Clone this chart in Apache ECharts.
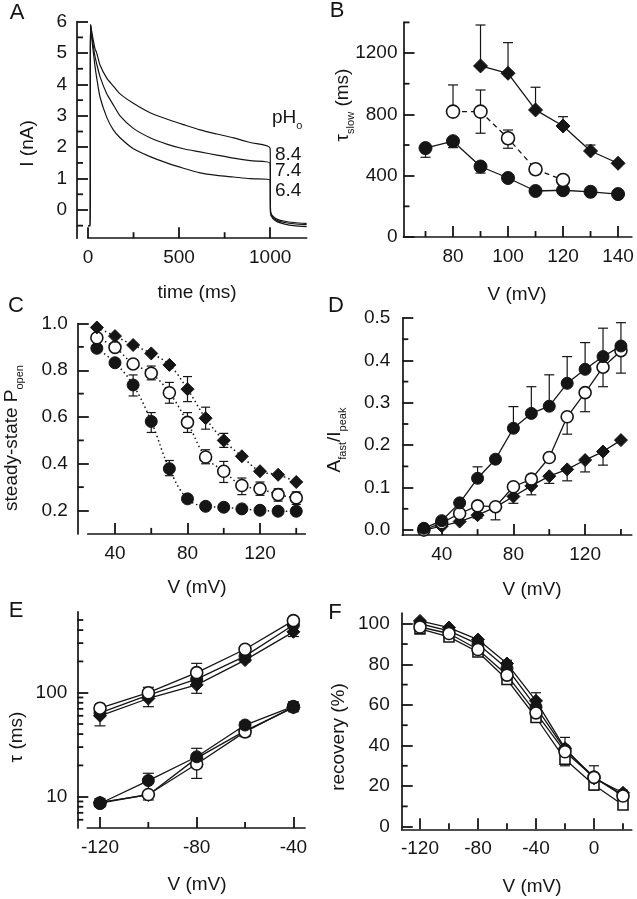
<!DOCTYPE html>
<html><head><meta charset="utf-8">
<script src="https://cdn.jsdelivr.net/npm/echarts@6/dist/echarts.min.js"></script>
<style>html,body{margin:0;padding:0;background:#fff}#c{width:637px;height:899px}</style>
</head><body><div id="c"></div>
<script>
// ---------- Panel A: current traces ----------
const timeA      = [0, 12, 14, 20, 38, 48, 66, 103, 139, 176, 249, 341, 432, 524, 615, 707, 799, 890, 1000, 1002, 1015, 1040, 1080, 1130, 1200];
const currentPH84 = [-0.5, -0.5, 5.9, 5.7, 5.15, 5.0, 4.62, 4.2, 3.95, 3.7, 3.4, 3.1, 2.9, 2.72, 2.55, 2.42, 2.3, 2.15, 1.96, -0.05, -0.2, -0.3, -0.36, -0.4, -0.43];
const currentPH74 = [-0.5, -0.5, 5.9, 5.6, 4.9, 4.65, 4.25, 3.7, 3.35, 3.0, 2.6, 2.3, 2.1, 1.95, 1.85, 1.75, 1.65, 1.57, 1.49, -0.08, -0.24, -0.34, -0.4, -0.44, -0.47];
const currentPH64 = [-0.5, -0.5, 5.9, 5.5, 4.6, 4.2, 3.6, 2.95, 2.55, 2.3, 1.95, 1.7, 1.5, 1.33, 1.18, 1.1, 1.05, 1.0, 0.96, -0.1, -0.28, -0.38, -0.45, -0.5, -0.53];
const pHLabels = ['8.4', '7.4', '6.4'];

// ---------- Panel B: tau slow ----------
const vBFilled = [70, 80, 90, 100, 110, 120, 130, 140];
const tauSlowFilled = [580, 625, 460, 385, 300, 305, 295, 280];
const vBOpen = [80, 90, 100, 110, 120];
const tauSlowOpen = [818, 818, 644, 442, 372];
const vBDiamond = [90, 100, 110, 120, 130, 140];
const tauSlowDiamond = [1116, 1068, 829, 724, 561, 481];
const errBFilled = [[70, 520, 580], [80, 583, 625], [90, 417, 460]];
const errBOpen = [[80, 818, 992], [90, 677, 959], [100, 579, 698]];
const errBDiamond = [[90, 1116, 1383], [100, 1068, 1268], [110, 829, 977], [120, 724, 785], [130, 561, 600]];

// ---------- Panel C: steady-state Popen ----------
const vC = [30, 40, 50, 60, 70, 80, 90, 100, 110, 120, 130, 140];
const pOpenDiamond = [0.983, 0.946, 0.908, 0.872, 0.823, 0.719, 0.595, 0.50, 0.432, 0.368, 0.353, 0.322];
const pOpenOpen = [0.939, 0.898, 0.827, 0.787, 0.704, 0.577, 0.429, 0.368, 0.307, 0.293, 0.268, 0.254];
const pOpenFilled = [0.894, 0.832, 0.737, 0.581, 0.379, 0.25, 0.218, 0.214, 0.207, 0.201, 0.197, 0.197];
const errCFilled = [[50, 0.69, 0.78], [60, 0.534, 0.619], [70, 0.349, 0.414]];
const errCOpen = [[60, 0.759, 0.818], [70, 0.659, 0.748], [80, 0.534, 0.619], [90, 0.40, 0.46], [100, 0.32, 0.41], [110, 0.268, 0.339], [120, 0.265, 0.322], [130, 0.24, 0.293], [140, 0.226, 0.28]];
const errCDiamond = [[80, 0.666, 0.773], [90, 0.548, 0.642], [100, 0.47, 0.53]];

// ---------- Panel D: Afast/Ipeak ----------
const vD = [30, 40, 50, 60, 70, 80, 90, 100, 110, 120, 130, 140];
const aFastFilled = [0.004, 0.022, 0.064, 0.122, 0.167, 0.24, 0.275, 0.292, 0.346, 0.379, 0.409, 0.434];
const aFastOpen = [0.0, 0.017, 0.039, 0.057, 0.055, 0.102, 0.12, 0.171, 0.267, 0.324, 0.384, 0.423];
const aFastDiamond = [0.0, 0.009, 0.02, 0.035, 0.054, 0.079, 0.104, 0.127, 0.143, 0.165, 0.185, 0.212];
const errDFilled = [[60, 0.122, 0.149], [80, 0.24, 0.291], [90, 0.275, 0.338], [100, 0.292, 0.366], [110, 0.346, 0.409], [120, 0.379, 0.442], [130, 0.409, 0.476], [140, 0.434, 0.489]];
const errDOpen = [[110, 0.226, 0.267], [120, 0.279, 0.324], [130, 0.338, 0.384], [140, 0.37, 0.423]];
const errDDiamond = [[60, 0.028, 0.035], [70, 0.024, 0.054], [80, 0.063, 0.079], [90, 0.083, 0.104], [100, 0.11, 0.127], [110, 0.116, 0.143], [120, 0.137, 0.165], [130, 0.153, 0.185]];

// ---------- Panel E: tau (log) ----------
const vE = [-120, -100, -80, -60, -40];
const tauSlowEOpen = [71, 100, 156, 262, 493];
const tauSlowEFilled = [64, 95, 135, 225, 448];
const tauSlowEDiamond = [60, 88, 119, 206, 385];
const tauFastEOpen = [8.7, 10.5, 20.6, 42, 73];
const tauFastEFilled = [8.6, 14.3, 24.2, 48.9, 74];
const tauFastEDiamond = [8.8, 10.4, 23.5, 43, 72];
const errE = [[-120, 48, 60], [-100, 73.4, 112.7], [-80, 98.7, 191.6], [-60, 198, 277], [-40, 347, 519], [-120, 8, 9.6], [-100, 9.3, 16.8], [-80, 15, 29.2], [-60, 37.8, 52.6], [-40, 65.6, 81.9]];

// ---------- Panel F: recovery ----------
const vF = [-120, -100, -80, -60, -40, -20, 0, 20];
const recSquare = [97.5, 93.5, 86.1, 72.5, 53.8, 33.2, 20.5, 10.7];
const recDiamond = [101.4, 98.1, 92.2, 80.4, 62, 38.6, 23.8, 16.7];
const recFilled = [100, 96.5, 90, 78, 59, 38, 24.5, 15.5];
const recOpen = [98.4, 95.2, 87.3, 74.7, 56.1, 36.9, 24.3, 15.1];
const errF = [[-60, 72.5, 82], [-40, 53.8, 66], [-20, 30, 44], [0, 18, 30], [20, 8.5, 18]];

// ---------- tick values ----------
const ticksA = {xMaj: [0, 500, 1000], xMin: [250, 750], yMaj: [0, 1, 2, 3, 4, 5, 6], yMin: [-0.5, 0.5, 1.5, 2.5, 3.5, 4.5, 5.5]};
const ticksB = {xMaj: [80, 100, 120, 140], xMin: [70, 90, 110, 130], yMaj: [0, 400, 800, 1200], yMin: [200, 600, 1000, 1400]};
const ticksC = {xMaj: [40, 80, 120], xMin: [60, 100, 140], yMaj: [0.2, 0.4, 0.6, 0.8, 1.0], yMin: [0.3, 0.5, 0.7, 0.9]};
const ticksD = {xMaj: [40, 80, 120], xMin: [60, 100, 140], yMaj: [0, 0.1, 0.2, 0.3, 0.4, 0.5], yMin: [0.05, 0.15, 0.25, 0.35, 0.45]};
const ticksE = {xMaj: [-120, -80, -40], xMin: [-100, -60], yMaj: [10, 100], yMin: [6, 7, 8, 9, 20, 30, 40, 50, 60, 70, 80, 90, 200, 300, 400, 500]};
const ticksF = {xMaj: [-120, -80, -40, 0], xMin: [-100, -60, -20, 20], yMaj: [0, 20, 40, 60, 80, 100], yMin: [10, 30, 50, 70, 90]};

const FONT = '"Liberation Sans", Arial, Helvetica, sans-serif';
const INK = '#151515';

const grids = [
  {left: 88, top: 21.7, width: 218.6, height: 216.5},
  {left: 403.5, top: 22.4, width: 228.3, height: 214.6},
  {left: 87.8, top: 323.5, width: 217.5, height: 210.4},
  {left: 402.3, top: 318, width: 229.4, height: 217.1},
  {left: 87.3, top: 611.8, width: 217.7, height: 216.2},
  {left: 401.7, top: 613, width: 230, height: 216.3}
];

const xAxes = [], yAxes = [];
function addAxis(list, dim, grid, cfg) {
  list.push({gridIndex: grid, type: cfg.type || 'value', min: cfg.min, max: cfg.max,
    position: dim === 'x' ? 'bottom' : 'left', offset: cfg.offset || 0,
    splitLine: {show: false},
    axisLine: {show: true, onZero: false, lineStyle: {color: INK, width: 1.7}},
    axisTick: {show: true, inside: true, length: 11, customValues: cfg.maj, lineStyle: {color: INK, width: 1.8}},
    axisLabel: {show: true, customValues: cfg.maj, color: INK, fontSize: 19, fontFamily: FONT, margin: cfg.margin || 10,
      formatter: cfg.fmt || (v => String(v))}
  });
}
const f1 = v => v.toFixed(1);
const axA = {x: {min: 0, max: 1200}, y: {min: -0.9, max: 6, off: 11}};
const axB = {x: {min: 62, max: 145}, y: {min: 0, max: 1400, off: 0}};
const axC = {x: {min: 25, max: 145}, y: {min: 0.1, max: 1.0, off: 10}};
const axD = {x: {min: 18, max: 146}, y: {min: -0.012, max: 0.5, off: 0}};
const axE = {x: {min: -125.25, max: -35.2}, y: {min: 5, max: 600, off: 10}};
const axF = {x: {min: -132.6, max: 26}, y: {min: -1.3, max: 105.3, off: 0}};
const AX = [axA, axB, axC, axD, axE, axF];
const TK = [ticksA, ticksB, ticksC, ticksD, ticksE, ticksF];

addAxis(xAxes, 'x', 0, {min: 0, max: 1200, maj: ticksA.xMaj});
addAxis(yAxes, 'y', 0, {min: -0.9, max: 6, maj: ticksA.yMaj, offset: 11});
addAxis(xAxes, 'x', 1, {min: 62, max: 145, maj: ticksB.xMaj});
addAxis(yAxes, 'y', 1, {min: 0, max: 1400, maj: ticksB.yMaj, margin: 6});
addAxis(xAxes, 'x', 2, {min: 25, max: 145, maj: ticksC.xMaj});
addAxis(yAxes, 'y', 2, {min: 0.1, max: 1.0, maj: ticksC.yMaj, offset: 10, fmt: f1});
addAxis(xAxes, 'x', 3, {min: 18, max: 146, maj: ticksD.xMaj});
addAxis(yAxes, 'y', 3, {min: -0.012, max: 0.5, maj: ticksD.yMaj, fmt: f1, margin: 12});
addAxis(xAxes, 'x', 4, {min: -125.25, max: -35.2, maj: ticksE.xMaj});
addAxis(yAxes, 'y', 4, {type: 'log', min: 5, max: 600, maj: ticksE.yMaj, offset: 10});
addAxis(xAxes, 'x', 5, {min: -132.6, max: 26, maj: ticksF.xMaj});
addAxis(yAxes, 'y', 5, {min: -1.3, max: 105.3, maj: ticksF.yMaj, margin: 12});

// minor ticks placed through each panel's own scales
function minorTicks(p) {
  const ax = AX[p], tk = TK[p];
  const data = tk.xMin.map(v => [v, ax.y.min, 0]).concat(tk.yMin.map(v => [ax.x.min, v, 1]));
  return {type: 'custom', xAxisIndex: p, yAxisIndex: p, data: data, z: 5, silent: true, animation: false, clip: false,
    renderItem: function (params, api) {
      const c = api.coord([api.value(0), api.value(1)]);
      const st = {stroke: INK, lineWidth: 1.8};
      if (api.value(2) === 0) {
        return {type: 'line', shape: {x1: c[0], y1: c[1], x2: c[0], y2: c[1] - 6}, style: st};
      }
      const x0 = c[0] - ax.y.off;
      return {type: 'line', shape: {x1: x0, y1: c[1], x2: x0 + 6, y2: c[1]}, style: st};
    }};
}

const zip = (xs, ys) => xs.map((x, i) => [x, ys[i]]);
function styleFor(kind) {
  if (kind === 'filled') return {symbol: 'circle', itemStyle: {color: INK, borderColor: INK, borderWidth: 1}};
  if (kind === 'open') return {symbol: 'circle', itemStyle: {color: '#fff', borderColor: INK, borderWidth: 1.6}};
  if (kind === 'diamond') return {symbol: 'diamond', itemStyle: {color: INK, borderColor: INK, borderWidth: 1}};
  if (kind === 'square') return {symbol: 'rect', itemStyle: {color: '#fff', borderColor: INK, borderWidth: 1.6}};
}
function pts(panel, kind, xs, ys, size, line) {
  return Object.assign({type: 'line', xAxisIndex: panel, yAxisIndex: panel, data: zip(xs, ys),
    symbolSize: size, showSymbol: true, z: 3, animation: false, smooth: line.smooth || false,
    lineStyle: {color: INK, width: line.width || 1.3, type: line.type || 'solid'}}, styleFor(kind));
}
function errs(panel, data, cap) {
  return {type: 'custom', xAxisIndex: panel, yAxisIndex: panel, data: data, z: 2, silent: true, animation: false,
    encode: {x: 0, y: [1, 2]},
    renderItem: function (params, api) {
      const x = api.value(0), lo = api.value(1), hi = api.value(2);
      const a = api.coord([x, lo]), b = api.coord([x, hi]); const w = cap / 2;
      const st = {stroke: INK, lineWidth: 1.2};
      return {type: 'group', children: [
        {type: 'line', shape: {x1: a[0], y1: a[1], x2: b[0], y2: b[1]}, style: st},
        {type: 'line', shape: {x1: a[0] - w, y1: a[1], x2: a[0] + w, y2: a[1]}, style: st},
        {type: 'line', shape: {x1: b[0] - w, y1: b[1], x2: b[0] + w, y2: b[1]}, style: st}
      ]};
    }};
}
function trace(ys) {
  return {type: 'line', xAxisIndex: 0, yAxisIndex: 0, data: zip(timeA, ys), showSymbol: false, symbol: 'none',
    smooth: 0.25, animation: false, lineStyle: {color: INK, width: 1.2}};
}

const series = [
  minorTicks(0), minorTicks(1), minorTicks(2), minorTicks(3), minorTicks(4), minorTicks(5),
  trace(currentPH84), trace(currentPH74), trace(currentPH64),
  errs(1, errBFilled, 10), errs(1, errBOpen, 10), errs(1, errBDiamond, 10),
  pts(1, 'filled', vBFilled, tauSlowFilled, 13, {}),
  pts(1, 'open', vBOpen, tauSlowOpen, 13, {type: [5, 4]}),
  pts(1, 'diamond', vBDiamond, tauSlowDiamond, 14, {}),
  errs(2, errCFilled, 9), errs(2, errCOpen, 9), errs(2, errCDiamond, 9),
  pts(2, 'filled', vC, pOpenFilled, 12, {type: [1.5, 3], smooth: 0.4, width: 1.5}),
  pts(2, 'open', vC, pOpenOpen, 12, {type: [1.5, 3], smooth: 0.4, width: 1.5}),
  pts(2, 'diamond', vC, pOpenDiamond, 13, {type: [1.5, 3], smooth: 0.4, width: 1.5}),
  errs(3, errDFilled, 10), errs(3, errDOpen, 10), errs(3, errDDiamond, 10),
  pts(3, 'diamond', vD, aFastDiamond, 13, {}),
  pts(3, 'open', vD, aFastOpen, 12, {}),
  pts(3, 'filled', vD, aFastFilled, 12, {}),
  errs(4, errE, 11),
  pts(4, 'diamond', vE, tauSlowEDiamond, 13, {}),
  pts(4, 'filled', vE, tauSlowEFilled, 12, {}),
  pts(4, 'open', vE, tauSlowEOpen, 12, {}),
  pts(4, 'diamond', vE, tauFastEDiamond, 13, {}),
  pts(4, 'open', vE, tauFastEOpen, 12, {}),
  pts(4, 'filled', vE, tauFastEFilled, 12, {}),
  errs(5, errF, 10),
  pts(5, 'square', vF, recSquare, 10, {}),
  pts(5, 'diamond', vF, recDiamond, 13, {}),
  pts(5, 'filled', vF, recFilled, 12, {}),
  pts(5, 'open', vF, recOpen, 12, {})
];

function txt(x, y, text, size, opt) {
  opt = opt || {};
  return {type: 'text', x: x, y: y, rotation: opt.rot || 0, z: 10,
    style: {text: text, fontSize: size, fontFamily: FONT, fill: INK,
      align: opt.align || 'center', textAlign: opt.align || 'center',
      verticalAlign: 'middle', textVerticalAlign: 'middle', rich: opt.rich}};
}
const subRich = {m: {fontSize: 19, fontFamily: FONT, fill: INK, lineHeight: 26, verticalAlign: 'middle'},
  s: {fontSize: 11, fontFamily: FONT, fill: INK, lineHeight: 26, verticalAlign: 'bottom'}};
const R = Math.PI / 2;
const graphics = [
  txt(17, 13, 'A', 22), txt(337, 11, 'B', 22), txt(16, 306, 'C', 22),
  txt(336, 306, 'D', 22), txt(16, 611, 'E', 22), txt(335, 613, 'F', 22),
  txt(197, 293, 'time (ms)', 19), txt(517, 295, 'V (mV)', 19), txt(197, 588, 'V (mV)', 19),
  txt(532, 590, 'V (mV)', 19), txt(197, 885, 'V (mV)', 19), txt(532, 887, 'V (mV)', 19),
  txt(27.5, 143.5, 'I (nA)', 19, {rot: R}),
  txt(343, 105, '{m|τ}{s|slow}{m| (ms)}', 19, {rot: R, rich: subRich}),
  txt(12, 438, '{m|steady-state P}{s|open}', 19, {rot: R, rich: subRich}),
  txt(335, 440, '{m|A}{s|fast}{m|/I}{s|peak}', 19, {rot: R, rich: subRich}),
  txt(17, 737, 'τ (ms)', 19, {rot: R}),
  txt(339, 737, 'recovery (%)', 19, {rot: R}),
  txt(272, 118, '{m|pH}{s|o}', 19, {align: 'left', rich: subRich}),
  txt(275, 155, pHLabels[0], 19, {align: 'left'}),
  txt(275, 171, pHLabels[1], 19, {align: 'left'}),
  txt(275, 191, pHLabels[2], 19, {align: 'left'})
];

const chart = echarts.init(document.getElementById('c'), null, {renderer: 'canvas'});
chart.setOption({
  animation: false,
  backgroundColor: '#fff',
  grid: grids,
  xAxis: xAxes,
  yAxis: yAxes,
  series: series,
  graphic: {elements: graphics}
});
</script></body></html>
